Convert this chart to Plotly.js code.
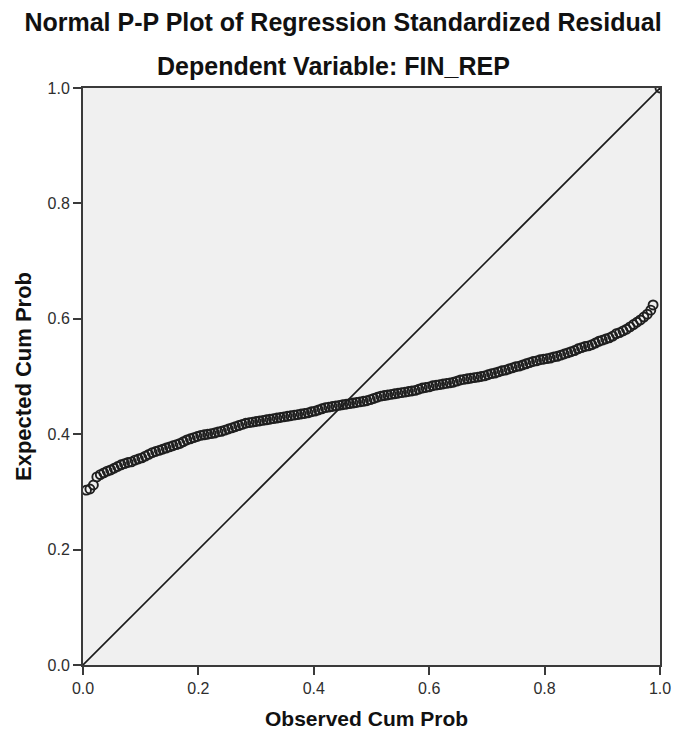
<!DOCTYPE html>
<html>
<head>
<meta charset="utf-8">
<script src="https://cdn.plot.ly/plotly-3.0.1.min.js"></script>
<style>html,body{margin:0;padding:0;background:#fff;}#chart{width:677px;height:734px;}</style>
</head>
<body>
<div id="chart"></div>
<script>
// Observed cumulative probability (x) of each residual
const observedCumProb = [
0.006,0.012,0.018,0.024,0.030,0.036,0.042,0.048,0.054,0.060,
0.066,0.072,0.078,0.084,0.090,0.096,0.102,0.108,0.114,0.120,
0.126,0.132,0.138,0.144,0.150,0.156,0.162,0.168,0.174,0.180,
0.186,0.192,0.198,0.204,0.210,0.216,0.222,0.228,0.234,0.240,
0.246,0.252,0.258,0.264,0.270,0.276,0.282,0.288,0.294,0.300,
0.306,0.312,0.318,0.324,0.330,0.336,0.342,0.348,0.354,0.360,
0.366,0.372,0.378,0.384,0.390,0.396,0.402,0.408,0.414,0.420,
0.426,0.432,0.438,0.444,0.450,0.456,0.462,0.468,0.474,0.480,
0.486,0.492,0.498,0.504,0.510,0.516,0.522,0.528,0.534,0.540,
0.546,0.552,0.558,0.564,0.570,0.576,0.582,0.588,0.594,0.600,
0.606,0.612,0.618,0.624,0.630,0.636,0.642,0.648,0.654,0.660,
0.666,0.672,0.678,0.684,0.690,0.696,0.702,0.708,0.714,0.720,
0.726,0.732,0.738,0.744,0.750,0.756,0.762,0.768,0.774,0.780,
0.786,0.792,0.798,0.804,0.810,0.816,0.822,0.828,0.834,0.840,
0.846,0.852,0.858,0.864,0.870,0.876,0.882,0.888,0.894,0.900,
0.906,0.912,0.918,0.924,0.930,0.936,0.942,0.948,0.954,0.960,
0.966,0.972,0.978,0.984,0.988,
1.000
];
// Expected cumulative probability (y)
const expectedCumProb = [
0.303,0.305,0.312,0.326,0.330,0.333,0.336,0.338,0.341,0.344,
0.347,0.349,0.351,0.352,0.355,0.357,0.359,0.362,0.365,0.368,
0.370,0.372,0.374,0.376,0.378,0.380,0.382,0.384,0.387,0.390,
0.392,0.394,0.396,0.398,0.399,0.400,0.401,0.402,0.404,0.405,
0.407,0.409,0.411,0.413,0.415,0.417,0.419,0.420,0.421,0.422,
0.423,0.424,0.425,0.426,0.427,0.428,0.429,0.430,0.431,0.432,
0.433,0.434,0.435,0.436,0.437,0.439,0.440,0.442,0.444,0.446,
0.447,0.448,0.449,0.450,0.451,0.452,0.453,0.454,0.455,0.456,
0.457,0.458,0.460,0.462,0.464,0.466,0.467,0.468,0.469,0.470,
0.471,0.472,0.473,0.474,0.475,0.476,0.478,0.480,0.481,0.482,
0.484,0.485,0.486,0.487,0.488,0.489,0.490,0.492,0.494,0.495,
0.496,0.497,0.498,0.499,0.500,0.501,0.503,0.505,0.506,0.508,
0.510,0.511,0.513,0.515,0.517,0.518,0.520,0.522,0.524,0.526,
0.527,0.529,0.530,0.531,0.532,0.534,0.535,0.537,0.539,0.541,
0.543,0.545,0.548,0.550,0.552,0.553,0.555,0.558,0.561,0.563,
0.565,0.567,0.570,0.574,0.576,0.579,0.582,0.586,0.590,0.594,
0.598,0.603,0.608,0.615,0.624,
1.000
];
// Diagonal reference line
const refLineX = [0, 1];
const refLineY = [0, 1];
const tickVals = [0, 0.2, 0.4, 0.6, 0.8, 1.0];
const tickText = ['0.0', '0.2', '0.4', '0.6', '0.8', '1.0'];

const FONT = 'Liberation Sans, Arial, sans-serif';

const traces = [
  {
    x: refLineX, y: refLineY, mode: 'lines', type: 'scatter',
    line: {color: '#1a1a1a', width: 1.6}, hoverinfo: 'skip', showlegend: false
  },
  {
    x: observedCumProb, y: expectedCumProb, mode: 'markers', type: 'scatter',
    marker: {symbol: 'circle-open', size: 9, color: '#1f1f1f', line: {width: 1.9, color: '#1f1f1f'}},
    showlegend: false
  }
];

const axisCommon = {
  range: [0, 1], tickvals: tickVals, ticktext: tickText,
  showgrid: false, zeroline: false, showline: true, mirror: true,
  linecolor: '#3a3a3a', linewidth: 2, ticks: 'outside', ticklen: 8, tickwidth: 2, tickcolor: '#3a3a3a',
  tickfont: {family: FONT, size: 16, color: '#2e2e2e'}, fixedrange: true
};

const layout = {
  width: 677, height: 734,
  margin: {l: 83, r: 17, t: 88, b: 69, pad: 0},
  paper_bgcolor: '#ffffff', plot_bgcolor: '#f0f0f0',
  font: {family: FONT, color: '#000'},
  title: {
    text: '<b>Normal P-P Plot of Regression Standardized Residual</b>',
    font: {family: FONT, size: 25, color: '#111'},
    x: 343 / 677, xanchor: 'center', xref: 'container', y: 1 - 22/734, yanchor: 'middle'
  },
  xaxis: Object.assign({}, axisCommon, {
    title: {text: '', font: {family: FONT, size: 21, color: '#111'}}
  }),
  yaxis: Object.assign({}, axisCommon, {
    title: {text: '', font: {family: FONT, size: 22, color: '#111'}}
  }),
  annotations: [
    {
      text: '<b>Dependent Variable: FIN_REP</b>', xref: 'paper', yref: 'paper',
      x: (333 - 83) / 577, y: (665 - 66) / 577, xanchor: 'center', yanchor: 'middle', showarrow: false,
      font: {family: FONT, size: 25, color: '#111'}
    },
    {
      text: '<b>Observed Cum Prob</b>', xref: 'paper', yref: 'paper',
      x: (366 - 83) / 577, y: (665 - 718) / 577, xanchor: 'center', yanchor: 'middle', showarrow: false,
      font: {family: FONT, size: 21, color: '#111'}
    },
    {
      text: '<b>Expected Cum Prob</b>', xref: 'paper', yref: 'paper', textangle: -90,
      x: (23 - 83) / 577, y: (665 - 377) / 577, xanchor: 'center', yanchor: 'middle', showarrow: false,
      font: {family: FONT, size: 22, color: '#111'}
    }
  ],
  showlegend: false
};

Plotly.newPlot('chart', traces, layout, {displayModeBar: false, staticPlot: true});
</script>
</body>
</html>
